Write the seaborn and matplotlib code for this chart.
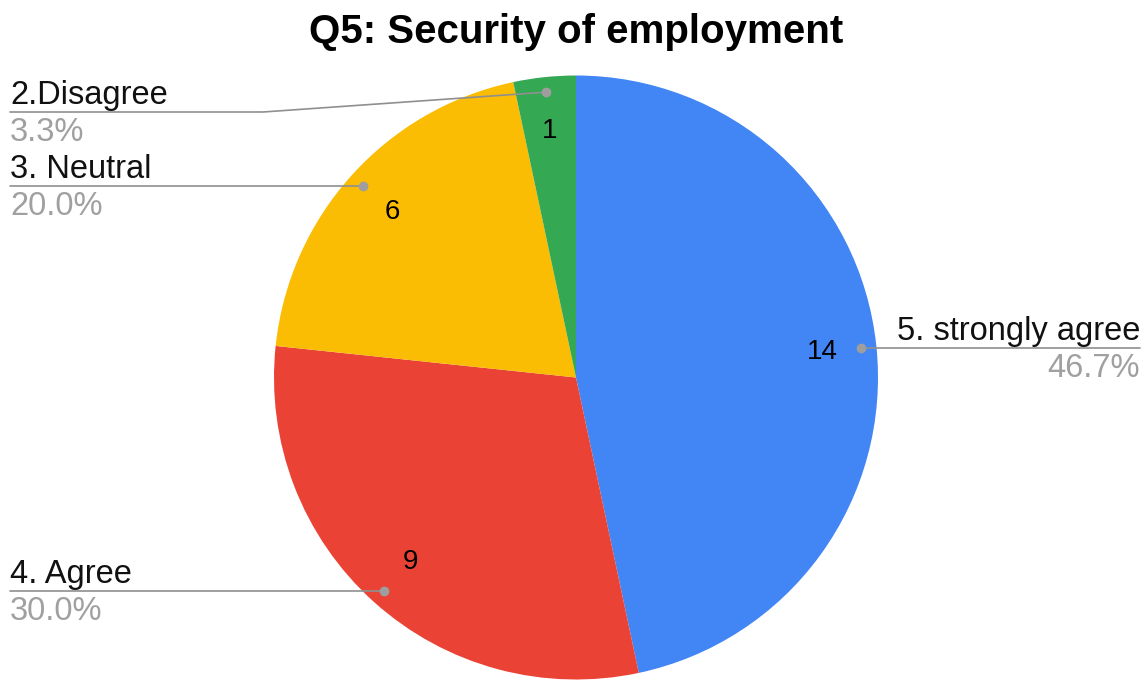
import matplotlib
matplotlib.use("Agg")
import matplotlib.pyplot as plt
import seaborn as sns
import numpy as np

# ---- data ----
categories = ["5. strongly agree", "4. Agree", "3. Neutral", "2.Disagree"]
counts = [14, 9, 6, 1]
colors = ["#4285F4", "#EA4335", "#FBBC04", "#34A853"]
title = "Q5: Security of employment"

sns.set_theme(style="white")
plt.rcParams["font.family"] = ["Liberation Sans", "DejaVu Sans"]

W, H = 1148, 680
fig = plt.figure(figsize=(W / 100, H / 100), dpi=100)
ax = fig.add_axes([0, 0, 1, 1])

def Y(py):
    return H - py

cx, cy, R = 576, Y(377.5), 302
total = sum(counts)

wedges, texts, autotexts = ax.pie(
    counts, colors=colors, startangle=90, counterclock=False,
    center=(cx, cy), radius=R, pctdistance=0.82,
    autopct=lambda p: f"{int(round(p * total / 100))}",
    wedgeprops=dict(linewidth=0),
    textprops=dict(fontsize=20, color="black"),
)

ax.set_xlim(0, W)
ax.set_ylim(0, H)
ax.set_aspect("auto")
ax.axis("off")

line_c = "#8f8f8f"
dot_c = "#9e9e9e"
pct_c = "#a0a0a0"
fs = 23.5

for w, cat, n in zip(wedges, categories, counts):
    mid = np.deg2rad((w.theta1 + w.theta2) / 2)
    dx = cx + 0.95 * R * np.cos(mid)
    dy = cy + 0.95 * R * np.sin(mid)
    pct = f"{100 * n / total:.1f}%"
    if np.cos(mid) > 0:
        ly = dy
        ax.plot([dx, 1140], [ly, ly], color=line_c, lw=1.2, zorder=3)
        tx, ha = 1140, "right"
    else:
        if cat.startswith("2."):
            ly = Y(112)
            ax.plot([dx, 263, 10], [dy, ly, ly], color=line_c, lw=1.2, zorder=3)
        else:
            ly = dy
            ax.plot([dx, 10], [ly, ly], color=line_c, lw=1.2, zorder=3)
        tx, ha = 10, "left"
    ax.plot([dx], [dy], "o", color=dot_c, markersize=6, zorder=4)
    ax.text(tx, ly + 8, cat, ha=ha, va="baseline", fontsize=fs, color="#111111")
    ax.text(tx, ly - 29, pct, ha=ha, va="baseline", fontsize=fs, color=pct_c)

ax.text(576, Y(43), title, ha="center", va="baseline", fontsize=29,
        fontweight="bold", color="black")

fig.savefig("out.png", dpi=100, facecolor="white")
